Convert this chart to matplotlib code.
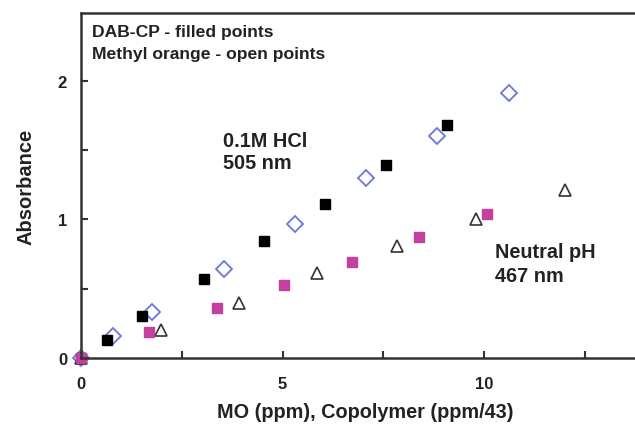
import matplotlib
matplotlib.use("Agg")
import matplotlib.pyplot as plt
from matplotlib.ticker import MultipleLocator

plt.rcParams['font.family'] = ['Liberation Sans', 'DejaVu Sans']
plt.rcParams['font.weight'] = 'bold'

# DAB-CP in 0.1M HCl (filled black squares)
dab_hcl_x = [0, 0.65, 1.51, 3.05, 4.54, 6.05, 7.57, 9.08]
dab_hcl_y = [0, 0.13, 0.30, 0.57, 0.845, 1.11, 1.39, 1.68]
# Methyl orange in 0.1M HCl (open diamonds)
mo_hcl_x = [0, 0.79, 1.76, 3.55, 5.31, 7.07, 8.83, 10.62]
mo_hcl_y = [0, 0.16, 0.33, 0.64, 0.97, 1.30, 1.60, 1.91]
# Methyl orange neutral pH (open triangles)
mo_neu_x = [0, 1.99, 3.92, 5.86, 7.84, 9.80, 12.0]
mo_neu_y = [0, 0.20, 0.40, 0.61, 0.81, 1.00, 1.21]
# DAB-CP neutral pH (filled magenta squares)
dab_neu_x = [0, 1.69, 3.37, 5.04, 6.72, 8.39, 10.07]
dab_neu_y = [0, 0.19, 0.36, 0.53, 0.69, 0.87, 1.04]

fig = plt.figure(figsize=(6.35, 4.27), dpi=100)
ax = fig.add_axes([81/635, 1-359/427, 553/635, 345/427])

ax.plot(mo_hcl_x, mo_hcl_y, 'D', ms=8, mfc='white', mec='#6b78d4', mew=1.3, ls='none', clip_on=False)
ax.plot(mo_neu_x, mo_neu_y, '^', ms=8.5, mfc='white', mec='#333333', mew=1.2, ls='none', clip_on=False)
ax.plot(dab_hcl_x, dab_hcl_y, 's', ms=7.5, color='black', ls='none', clip_on=False)
ax.plot(dab_neu_x, dab_neu_y, 's', ms=7, color='#c4409f', ls='none', clip_on=False)

ax.set_xlim(0, 13.72)
ax.set_ylim(0, 2.49)
ax.xaxis.set_major_locator(MultipleLocator(5))
ax.xaxis.set_minor_locator(MultipleLocator(2.5))
ax.yaxis.set_major_locator(MultipleLocator(1))
ax.yaxis.set_minor_locator(MultipleLocator(0.5))
ax.tick_params(which='both', direction='in', length=5, width=1.5, color='#333333',
               labelsize=12, top=False, right=False, labelcolor='#222222')
ax.tick_params(axis='x', pad=13)
ax.tick_params(axis='y', pad=10)

for s in ['left', 'bottom', 'top']:
    ax.spines[s].set_linewidth(1.8)
    ax.spines[s].set_color('#333333')
ax.spines['right'].set_visible(False)

ax.set_xlabel('MO (ppm), Copolymer (ppm/43)', fontsize=14.3, fontweight='bold', color='#222222')
ax.xaxis.set_label_coords((365-81)/553, (359-413)/345)
ax.xaxis.label.set_va('center')
ax.set_ylabel('Absorbance', fontsize=14.5, fontweight='bold', labelpad=16, color='#222222')

def figtext(x, y, s, size):
    fig.text(x/635, 1-y/427, s, fontsize=size, fontweight='bold', va='center', ha='left', color='#222222')

figtext(92, 32, 'DAB-CP - filled points', 12.6)
figtext(92, 55, 'Methyl orange - open points', 12.6)
figtext(223, 142, '0.1M HCl', 14.3)
figtext(223, 164, '505 nm', 14.3)
figtext(495, 252, 'Neutral pH', 14.3)
figtext(495, 276, '467 nm', 14.3)

fig.savefig('out.png', dpi=100)
